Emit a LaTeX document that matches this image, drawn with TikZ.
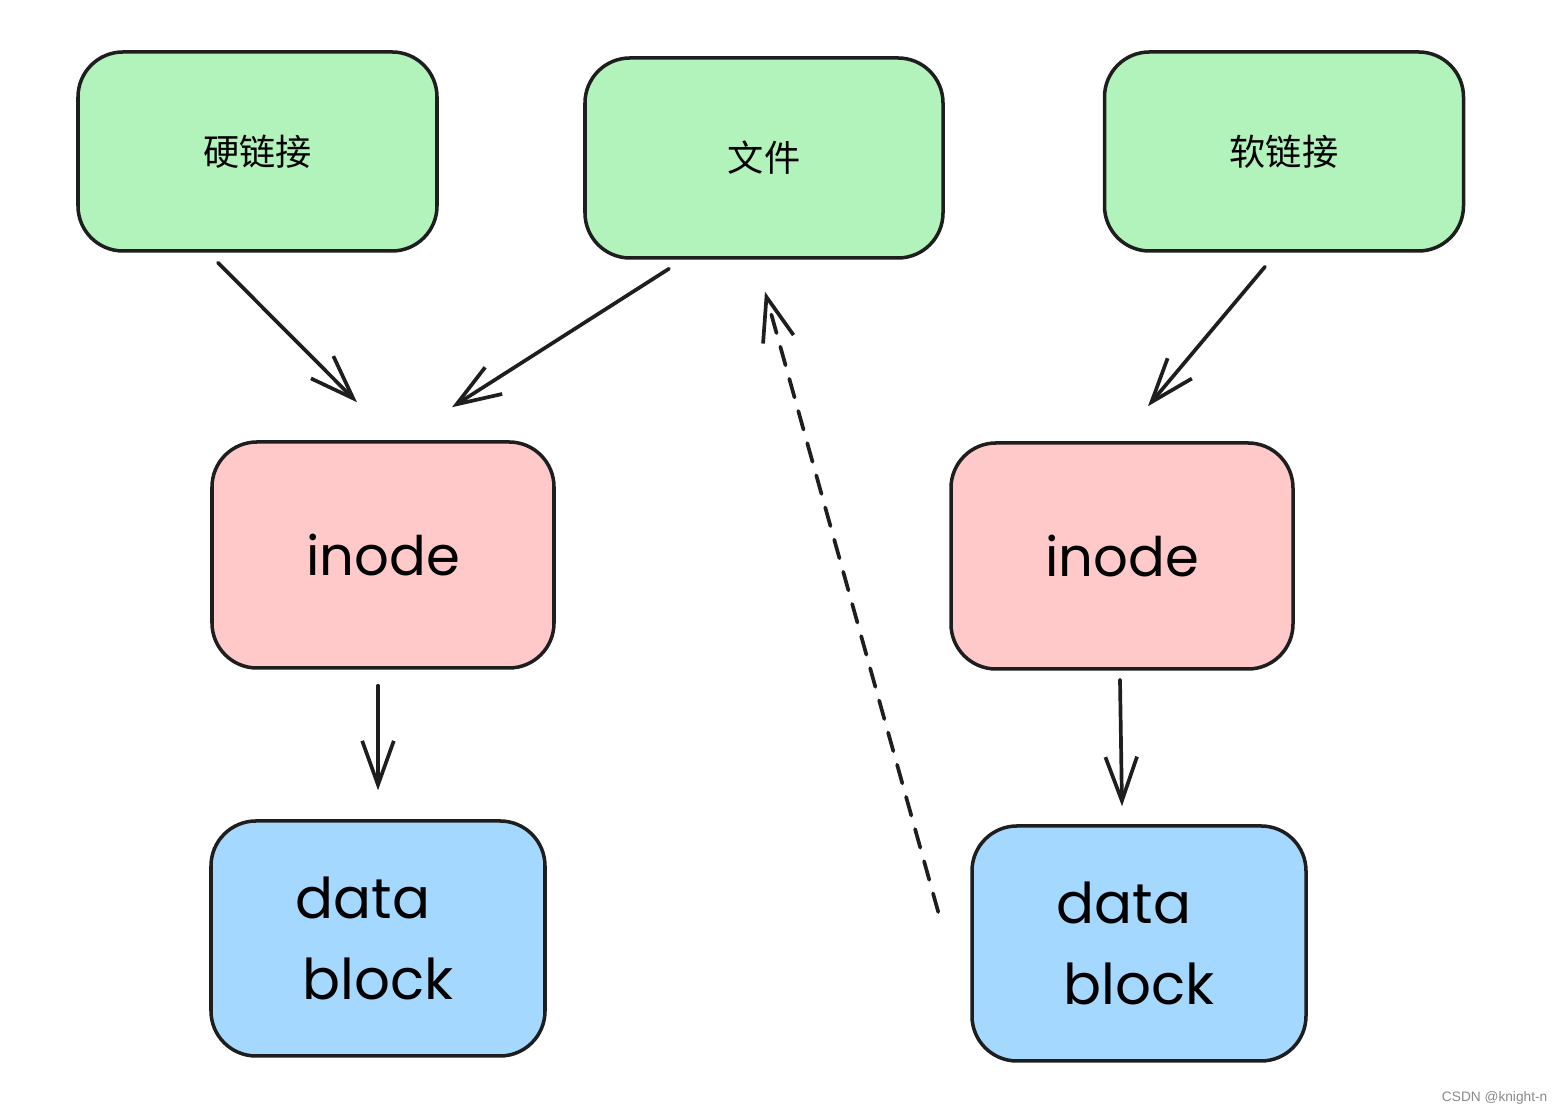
\documentclass[tikz,border=0pt]{standalone}
\usepackage{fontspec}
\usepackage{xcolor}
\usepackage{tikz}
\usetikzlibrary{calc,positioning,arrows.meta}
\newfontfamily\cjk{Noto Sans CJK SC}
\newfontfamily\handfont{Poppins}
\newfontfamily\markfont{Liberation Sans}
\definecolor{InkLine}{HTML}{1E1E1E}
\definecolor{LinkGreen}{HTML}{B2F2BB}
\definecolor{InodeRed}{HTML}{FFC9C9}
\definecolor{BlockBlue}{HTML}{A5D8FF}
\definecolor{MarkGray}{HTML}{8A8A8A}
\tikzset{
    card/.style={draw=InkLine, line width=1pt, rounded corners=0.45cm, inner sep=0pt},
    linkbox/.style={card, fill=LinkGreen, minimum width=3.59cm, minimum height=1.99cm, font=\cjk\fontsize{10.3}{12}\selectfont},
    inodebox/.style={card, fill=InodeRed, minimum width=3.42cm, minimum height=2.26cm, font=\handfont\fontsize{15.5}{18}\selectfont},
    blockbox/.style={card, fill=BlockBlue, minimum width=3.34cm, minimum height=2.35cm, align=center, font=\handfont\fontsize{16}{23.3}\selectfont},
    arr/.style={draw=InkLine, line width=1.05pt, line cap=round, -{Straight Barb[length=12.5pt,width=9pt,line width=1.05pt]}},
    dasharr/.style={arr, dash pattern=on 5.5pt off 4pt}
}

\begin{document}
\begin{tikzpicture}
        \useasboundingbox (0,0) rectangle (15.64,11.15);
        \fill[white] (0,0) rectangle (15.64,11.15);

        \node[linkbox] (hard) at (2.575,9.635) {硬链接};
        \node[linkbox, minimum width=3.58cm, minimum height=2.0cm] (file) at (7.64,9.57) {文件};
        \node[linkbox] (soft) at (12.84,9.635) {软链接};

        \node[inodebox] (inodeL) at (3.83,5.60) {inode};
        \node[inodebox] (inodeR) at (11.22,5.59) {inode};

        \node[blockbox] (dataL) at (3.78,1.765) {data\hspace*{0.3cm}\\block};
        \node[blockbox] (dataR) at (11.39,1.715) {data\hspace*{0.3cm}\\block};

        \draw[arr] ([xshift=-0.395cm,yshift=-0.10cm]hard.south) -- ([xshift=-0.26cm,yshift=0.38cm]inodeL.north);
        \draw[arr] ([xshift=-0.95cm,yshift=-0.09cm]file.south) -- ([xshift=0.69cm,yshift=0.33cm]inodeL.north);
        \draw[arr] ([xshift=-0.19cm,yshift=-0.14cm]soft.south) -- ([xshift=0.26cm,yshift=0.35cm]inodeR.north);
        \draw[arr] ([xshift=-0.05cm,yshift=-0.16cm]inodeL.south) -- ([yshift=0.29cm]dataL.north);
        \draw[arr] ([xshift=-0.02cm,yshift=-0.09cm]inodeR.south) -- ([xshift=-0.17cm,yshift=0.18cm]dataR.north);
        \draw[dasharr] ([xshift=-0.32cm,yshift=0.315cm]dataR.west) -- ([xshift=0.01cm,yshift=-0.32cm]file.south);

        \node[anchor=east, text=MarkGray, font=\markfont\fontsize{3.9}{5}\selectfont, inner sep=0pt] (mark) at (15.48,0.17) {CSDN @knight-n};
    \end{tikzpicture}
\end{document}
